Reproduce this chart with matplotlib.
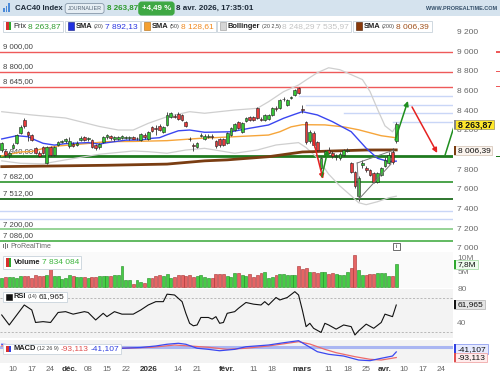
import matplotlib
matplotlib.use('Agg')
import matplotlib.pyplot as plt
from matplotlib.patches import Rectangle
import numpy as np

plt.rcParams['font.family'] = ['Liberation Sans', 'DejaVu Sans']

# ---------------- data ----------------
opens = [8000,7990,7950,8030,8075,8180,8305,8190,8160,8030,7975,8040,7875,8035,7955,8056,8090,8100,8050,8070,
         8060,8110,8135,8115,8110,8055,8035,8090,8135,8150,8115,8120,8125,8130,8130,8135,8125,8110,8160,8120,
         8240,8230,8250,8190,8260,8345,8355,8370,8360,8290,8120,8060,8040,8150,8115,8140,8150,8097,8120,8115,
         8076,8160,8210,8290,8190,8295,8345,8345,8430,8320,8310,8320,8360,8430,8430,8520,8465,8535,8565,8630,
         8425,8290,8100,8180,8090,7825,7960,8000,7970,7930,7920,7955,7995,7875,7785,7540,7850,7820,7800,7770,
         7680,7750,7840,7875,7985,8095]
highs = [8085,8000,7990,8075,8165,8255,8325,8200,8170,8040,7990,8050,8045,8045,8045,8097,8110,8130,8140,8085,
         8095,8145,8145,8140,8120,8070,8075,8150,8165,8160,8145,8150,8160,8150,8150,8145,8140,8175,8175,8200,
         8250,8260,8265,8250,8390,8390,8370,8390,8370,8300,8140,8080,8085,8175,8165,8170,8165,8110,8130,8125,
         8190,8235,8275,8300,8285,8340,8355,8355,8440,8340,8370,8370,8440,8450,8525,8540,8525,8555,8625,8645,
         8465,8300,8210,8195,8100,7935,8010,8040,7990,7960,7980,8015,8030,7880,7790,7740,7900,7845,7810,7780,
         7780,7830,7930,7985,8030,8290]
lows = [7985,7935,7925,8015,8065,8170,8230,8095,8100,7965,7930,7960,7865,7945,7945,8046,8080,8080,8030,8035,
        8050,8100,8100,8100,8030,8000,8020,8080,8120,8110,8100,8110,8115,8115,8110,8115,8110,8100,8120,8110,
        8185,8160,8200,8180,8250,8335,8330,8310,8300,8240,8100,7990,8030,8140,8105,8125,8120,8030,8040,8045,
        8065,8150,8200,8215,8180,8285,8300,8300,8320,8295,8300,8310,8350,8405,8420,8505,8455,8525,8555,8570,
        8385,8070,8080,8040,7990,7800,7940,7960,7920,7900,7905,7945,7980,7770,7620,7490,7820,7780,7740,7670,
        7670,7740,7830,7865,7860,8080]
closes = [8073,7950,7975,8060,8158,8240,8245,8160,8110,7975,7945,7975,8035,7955,8035,8087,8095,8115,8100,8050,
          8080,8130,8110,8125,8040,8030,8065,8135,8155,8125,8135,8140,8148,8140,8135,8120,8130,8165,8135,8190,
          8195,8220,8210,8240,8360,8380,8345,8320,8310,8250,8115,8050,8075,8160,8150,8145,8135,8046,8055,8060,
          8178,8225,8265,8225,8275,8330,8310,8310,8330,8310,8360,8365,8430,8420,8515,8525,8515,8540,8615,8580,
          8410,8090,8190,8060,8005,7925,7990,7975,7945,7945,7960,8000,8000,7785,7640,7725,7870,7800,7750,7680,
          7770,7820,7905,7955,7885,8264]
volumes_m = [3.2,3.6,3.5,3.5,3.2,3.8,3.7,3.7,3.0,4.1, 3.7,3.8,4.3,6.4,3.8,3.7,2.6,3.2,4.0,3.7,
             3.5,3.5,3.4,3.2,3.5,3.5,3.8,3.7,3.8,3.9, 4.1,4.1,7.2,2.4,2.4,1.0,2.4,1.8,1.3,3.0,
             3.2,3.7,4.1,3.7,4.4,3.2,3.5,4.1,4.1,3.8, 4.1,3.5,3.8,4.1,3.5,3.2,3.2,4.5,4.6,4.6,
             3.8,3.5,5.0,4.7,4.2,3.8,4.6,3.5,4.2,5.0, 5.2,3.2,3.5,4.3,4.6,4.6,4.1,4.1,4.3,7.2,
             6.2,6.4,5.1,5.1,5.0,5.1,5.1,4.4,5.0,4.4, 4.1,4.1,5.3,6.4,11.0,6.0,4.1,4.1,4.4,4.4,
             4.7,5.0,5.0,3.8,3.8,7.8]

sma20_i = [0,4,7,9,11,14,17,23,26,28,33,37,40,42,44,47,50,54,61,66,71,75,78,80,84,88,93,97,100,103,105]
sma20_v = [8117,8150,8140,8105,8073,8055,8070,8080,8065,8079,8105,8107,8124,8130,8160,8200,8208,8185,8190,8226,
           8259,8327,8368,8394,8361,8293,8191,8023,7921,7887,7892]
sma50_i = [0,5,8,11,15,22,28,35,44,53,62,71,74,77,80,86,91,95,101,105]
sma50_v = [7945,7985,7990,8020,8046,8068,8090,8092,8100,8124,8140,8157,8190,8240,8262,8260,8240,8210,8150,8129]
sma200_i = [0,28,44,54,60,71,80,88,97,105]
sma200_v = [7836,7850,7862,7895,7905,7937,7985,7995,8005,8006]
bb_up_i = [0,8,17,26,31,35,39,44,50,54,62,68,71,75,79,81,84,87,90,93,96,98,100,102,104,105]
bb_up_v = [8394,8361,8330,8244,8208,8208,8276,8343,8394,8378,8411,8428,8495,8597,8665,8716,8790,8840,8820,8770,
           8720,8600,8420,8250,8190,8248]
bb_lo_i = [0,5,11,17,26,35,39,44,49,54,62,68,73,79,81,84,87,90,93,95,97,100,103,105]
bb_lo_v = [7895,7870,7865,7905,7962,7995,7988,7972,8005,8022,7972,8005,8056,8080,8030,7925,7760,7640,7540,7470,
           7450,7480,7520,7536]

rsi_i = [0,2,6,8,9,11,13,15,17,19,22,23,25,27,28,30,32,35,37,39,41,43,44,46,48,49,50,51,52,53,55,56,57,58,59,
         60,62,63,65,67,69,70,71,73,74,76,78,79,80,81,82,83,85,86,87,89,91,93,94,95,97,99,101,102,104,105]
rsi_v = [50,38,62,56,41,42,41,53,54,51,54,53,44,52,48,54,51,51,56,62,66,66,75,74,66,52,40,37,38,47,47,45,48,40,41,
         52,54,58,65,63,62,66,62,71,68,71,78,74,56,36,40,34,29,40,38,33,38,36,26,31,39,34,41,51,48,61.965]

macd_i = [0,8,16,25,32,37,41,44,47,49,52,55,58,62,65,71,75,79,81,84,87,91,95,98,101,104,105]
macd_v = [30,10,-5,-10,-7,0,14,30,39,30,-7,-17,-30,-17,7,23,44,63,23,-39,-63,-79,-116,-122,-100,-79,-41.107]
sig_i = [0,8,16,25,32,40,46,50,55,60,65,71,76,79,82,86,89,94,98,101,105]
sig_v = [15,12,2,-5,-7,2,23,14,2,-17,-7,14,39,54,32,-17,-48,-85,-109,-116,-93.113]

red_levels = [9000, 8800, 8645]
green_levels = [7940, 7682, 7512, 7200, 7086]
green_colors = ['#1f7a1f', '#3d9c3d', '#1d6b1d', '#8fd08f', '#55b455']
green_widths = [2.0, 1.3, 1.3, 1.3, 1.3]
blue_full = [7386, 7305]
blue_part = [(8556, 79), (8462, 81), (8378, 91), (8286, 104)]
price_ticks = [9200, 9000, 8800, 8600, 8400, 8200, 7800, 7600, 7400, 7200, 7000]

tick_idx = [3, 8, 13, 18, 23, 28, 33, 39, 47, 52, 60, 67, 72, 80, 87, 92, 97, 102, 107, 112, 117]
tick_lbl = ['10', '17', '24', 'déc.', '08', '15', '22', '2026', '14', '21', 'févr.', '11', '18', 'mars',
            '11', '18', '25', 'avr.', '10', '17', '24']

# ---------------- layout helpers ----------------
W, H = 500, 375
fig = plt.figure(figsize=(5, 3.75), dpi=100)
fig.patch.set_facecolor('white')
renderer = fig.canvas.get_renderer()

def ax_px(x0, y0, x1, y1):
    a = fig.add_axes([x0 / W, 1 - y1 / H, (x1 - x0) / W, (y1 - y0) / H])
    for s in a.spines.values():
        s.set_visible(False)
    a.set_xticks([]); a.set_yticks([])
    return a

def R(x0, y0, x1, y1, **kw):
    fig.patches.append(Rectangle((x0 / W, 1 - y1 / H), (x1 - x0) / W, (y1 - y0) / H,
                                 transform=fig.transFigure, **kw))

def T(x, y, s, **kw):
    kw.setdefault('va', 'center')
    return fig.text(x / W, 1 - y / H, s, **kw)

def seq(x, y, pieces, gap=1.6, z=7):
    """Place text pieces one after another; returns end x (px)."""
    for s, size, col, wt in pieces:
        t = T(x, y, s, fontsize=size, color=col, fontweight=wt, zorder=z)
        bb = t.get_window_extent(renderer)
        x = bb.x1 + gap
    return x - gap

XL = (-0.46, 120.1)
n = len(closes)
idx = np.arange(n)
o = np.array(opens); c = np.array(closes); h = np.array(highs); l = np.array(lows)
up = c >= o
GREEN, RED = '#35c435', '#e63b3b'
NUM = 6.0

# ---------------- main price panel ----------------
ax = ax_px(0, 16, 453, 252)
ax.set_xlim(*XL); ax.set_ylim(6969.5, 9365.5)
ax.set_facecolor('white')
for lv in red_levels:
    ax.axhline(lv, color='#ee5a5a', lw=1.0, zorder=1)
for lv, col, lw in zip(green_levels, green_colors, green_widths):
    ax.axhline(lv, color=col, lw=lw, zorder=1)
for lv in blue_full:
    ax.axhline(lv, color='#c9d6f7', lw=1.0, zorder=1)
for lv, st in blue_part:
    ax.plot([st, XL[1]], [lv, lv], color='#c9d6f7', lw=1.0, zorder=1)
for lv in red_levels + green_levels:
    ax.annotate(f"{lv:,.2f}".replace(',', ' ').replace('.', ','), xy=(0, lv),
                xycoords=('axes fraction', 'data'), xytext=(2, 1.2), textcoords='offset points',
                fontsize=5.6, color='#444444', va='bottom', ha='left', zorder=2)

ax.plot(bb_up_i, bb_up_v, color='#cfcfcf', lw=0.9, zorder=2)
ax.plot(bb_lo_i, bb_lo_v, color='#cfcfcf', lw=0.9, zorder=2)
ax.plot(sma200_i, sma200_v, color='#7a3d12', lw=2.0, zorder=3)
ax.plot(sma50_i, sma50_v, color='#f6a53a', lw=1.0, zorder=3)
ax.plot(sma20_i, sma20_v, color='#3a46f0', lw=1.0, zorder=3)

ax.vlines(idx, l, h, color='#333333', lw=0.6, zorder=4)
body_b = np.minimum(o, c)
body_h = np.maximum(np.abs(c - o), 6)
ax.bar(idx, body_h, bottom=body_b, width=0.72, color=np.where(up, GREEN, RED),
       edgecolor='#222222', linewidth=0.4, zorder=5)

arr = dict(arrowstyle='-|>', mutation_scale=7, lw=1.1, shrinkA=0, shrinkB=0)
ax.annotate('', xy=(85.5, 7711), xytext=(82.9, 8107), arrowprops=dict(arr, color='#e52222'), zorder=6)
ax.annotate('', xy=(86.8, 8005), xytext=(85.2, 7734), arrowprops=dict(arr, color='#1f8f1f'), zorder=6)
ax.annotate('', xy=(108.1, 8503), xytext=(104.7, 8107), arrowprops=dict(arr, color='#1f8f1f'), zorder=6)
ax.annotate('', xy=(115.9, 7975), xytext=(109.2, 8442), arrowprops=dict(arr, color='#e52222'), zorder=6)
ax.plot([118.0, 121.0], [7955, 8320], color='#1f8f1f', lw=1.1, zorder=6)
ax.plot([94.6, 104.4], [7873, 8005], color='#777777', lw=0.7, zorder=6)
ax.plot([95.1, 103.6], [7508, 7863], color='#777777', lw=0.7, zorder=6)
ax.plot([94.6, 95.1], [7873, 7508], color='#777777', lw=0.7, zorder=6)

for p in price_ticks:
    ax.annotate(f"{p:,}".replace(',', ' '), xy=(1, p), xycoords=('axes fraction', 'data'),
                xytext=(3, 0), textcoords='offset points', fontsize=NUM, color='#666666',
                va='center', ha='left', annotation_clip=False)

# ---------------- volume panel ----------------
axv = ax_px(0, 252, 453, 288)
axv.set_xlim(*XL); axv.set_ylim(-0.345, 12.07)
axv.set_facecolor('#fafafa')
vc = np.where(up, '#45cc45', '#e56464')
ve = np.where(up, '#1f8a1f', '#a83030')
axv.bar(idx, volumes_m, width=0.78, color=vc, edgecolor=ve, linewidth=0.4, zorder=3)
for v, lab in [(10, '10M'), (5, '5M')]:
    axv.annotate(lab, xy=(1, v), xycoords=('axes fraction', 'data'), xytext=(3, 0),
                 textcoords='offset points', fontsize=NUM, color='#777777', va='center',
                 annotation_clip=False)

# ---------------- RSI panel ----------------
axr = ax_px(0, 289, 453, 338)
axr.set_xlim(*XL); axr.set_ylim(22.35, 81.2)
axr.set_facecolor('#f3f3f3')
for lv in (70, 30):
    axr.axhline(lv, color='#b0b0b0', lw=0.6, ls=(0, (2.5, 2)))
axr.plot(rsi_i, rsi_v, color='#111111', lw=0.8)
for v in (80, 40):
    axr.annotate(str(v), xy=(1, v), xycoords=('axes fraction', 'data'), xytext=(3, 0),
                 textcoords='offset points', fontsize=NUM, color='#777777', va='center',
                 annotation_clip=False)

# ---------------- MACD panel ----------------
axm = ax_px(0, 340, 453, 363)
axm.set_xlim(*XL); axm.set_ylim(-143.5, 69.4)
axm.set_facecolor('#f3f3f3')
axm.axhline(0, color='#aab6f2', lw=2.2)
axm.plot(sig_i, sig_v, color='#ee6a6a', lw=0.9)
axm.plot(macd_i, macd_v, color='#3b48f0', lw=0.9)
axm.set_xticks(tick_idx)
axm.set_xticklabels(tick_lbl, fontsize=5.8, color='#666666')
axm.tick_params(axis='x', length=0, pad=2.4)
for t in axm.get_xticklabels():
    if t.get_text() in ('déc.', '2026', 'févr.', 'mars', 'avr.'):
        t.set_fontweight('bold'); t.set_color('#333333')

# ---------------- header ----------------
R(0, 0, 500, 16, fc='#d5e3ee', ec='none')
for k, hh in enumerate([4, 6, 9]):
    R(3 + k * 2.6, 12 - hh, 4.8 + k * 2.6, 12, fc='#4a8ad8', ec='none')
hy = 8.5
x = seq(15, hy, [('CAC40 Index', 5.6, '#1d2a38', 'bold')])
x = x + 5
t = T(x, hy, 'JOURNALIER', fontsize=3.9, color='#556677',
      bbox=dict(boxstyle='round,pad=0.45', fc='#e6eef4', ec='#8899aa', lw=0.6))
x = t.get_window_extent(renderer).x1 + 5
x = seq(x, hy, [('8 263,87', 5.8, '#2e9b2e', 'bold')]) + 4
t = T(x, hy, '+4,49 %', fontsize=5.8, fontweight='bold', color='white',
      bbox=dict(boxstyle='round,pad=0.35', fc='#3ea843', ec='#3ea843'))
x = t.get_window_extent(renderer).x1 + 5
seq(x, hy, [('8 avr. 2026, 17:35:01', 5.8, '#1d2a38', 'bold')])
T(497, 9, 'WWW.PROREALTIME.COM', fontsize=4.0, fontweight='bold', color='#34506a', ha='right')

# ---------------- legends ----------------
def legend_item(x0, y0, y1, icon, pieces):
    ym = (y0 + y1) / 2
    xs = x0 + 3
    if icon[0] == 'split':
        R(xs, y0 + 2, xs + 2.5, y1 - 2, fc='#d83030', ec='none', zorder=6)
        R(xs + 2.5, y0 + 2, xs + 5, y1 - 2, fc=icon[1], ec='none', zorder=6)
    else:
        R(xs, y0 + 2, xs + 5.5, y1 - 2, fc=icon[1], ec=icon[2], lw=0.4, zorder=6)
    x_end = seq(xs + 7.5, ym + 0.2, pieces)
    R(x0, y0, x_end + 2.5, y1, fc='white', ec='#cfd8e0', lw=0.7, zorder=5)
    return x_end + 2.5

LS, SS, D = 5.4, 3.9, '#222222'
G = '#444444'
ly0, ly1 = 20.5, 32
legend_item(3, ly0, ly1, ('split', '#2ea82e'),
            [('Prix', LS, D, 'normal'), ('8 263,87', NUM, '#2e9b2e', 'normal')])
legend_item(65, ly0, ly1, ('sq', '#2030e0', '#101a80'),
            [('SMA', LS, D, 'bold'), ('(20)', SS, G, 'normal'), ('7 892,13', NUM, '#2a36e0', 'normal')])
legend_item(141, ly0, ly1, ('sq', '#f5a030', '#b06a10'),
            [('SMA', LS, D, 'bold'), ('(50)', SS, G, 'normal'), ('8 128,61', NUM, '#f08a20', 'normal')])
legend_item(217, ly0, ly1, ('sq', '#d6d6d6', '#999999'),
            [('Bollinger', LS, D, 'bold'), ('(20 2,5)', SS, G, 'normal'),
             ('8 248,29', NUM, '#c4c4c4', 'normal'), ('7 535,97', NUM, '#c4c4c4', 'normal')])
legend_item(353, ly0, ly1, ('sq', '#8a3a0a', '#4a1a00'),
            [('SMA', LS, D, 'bold'), ('(200)', SS, G, 'normal'), ('8 006,39', NUM, '#a0501a', 'normal')])

legend_item(3, 255.5, 268.5, ('split', '#2ea82e'),
            [('Volume', LS, D, 'bold'), ('7 834 084', NUM, '#3cb43c', 'normal')])
legend_item(3, 291.5, 302, ('sq', '#111111', '#111111'),
            [('RSI', LS, D, 'bold'), ('(14)', SS, G, 'normal'), ('61,965', NUM, D, 'normal')])
R(6, 345.5, 8.5, 352, fc='#e05050', ec='none', zorder=6)
legend_item(3, 343.5, 354, ('split', '#3040e0'),
            [('MACD', LS, D, 'bold'), ('(12 26 9)', SS, G, 'normal'),
             ('-93,113', NUM, '#e05050', 'normal'), ('-41,107', NUM, '#3040e0', 'normal')])

# watermark logo + text, info icon
for k, (y0, y1) in enumerate([(244, 248), (242.5, 249), (244, 248)]):
    R(3 + k * 1.8, y0, 4 + k * 1.8, y1, fc='#777777', ec='none')
T(10, 246, 'ProRealTime', fontsize=5.0, color='#666666')
R(393, 243, 400, 249.5, fc='white', ec='#555555', lw=0.6, zorder=5)
T(396.5, 246.3, 'i', fontsize=4.5, color='#333333', ha='center', zorder=7)

# right-side value tags
def tag(y, txt, fc, ec, bar, tc='#111111', bold=False):
    t = T(457.5, y + 0.2, txt, fontsize=6.3 if bold else NUM, color=tc,
          fontweight='bold' if bold else 'normal', zorder=10)
    x1 = t.get_window_extent(renderer).x1 + 2
    R(453.5, y - 4.6, x1, y + 4.6, fc=fc, ec=ec, lw=0.6, zorder=8)
    R(453.5, y - 4.6, 455.5, y + 4.6, fc=bar, ec='none', zorder=9)

tag(124.3, '8 263,87', '#ffe82a', '#a8a070', '#888888', bold=True)
tag(150.3, '8 006,39', '#fbf4ee', '#d8c8bc', '#7a3d12')
tag(264.5, '7,8M', '#eefbee', '#a8dca8', '#2ea82e')
tag(304.5, '61,965', '#e4e4e4', '#bbbbbb', '#111111')
tag(349.0, '-41,107', '#e6eaff', '#8f9ef0', '#3040e0')
tag(357.4, '-93,113', '#ffecec', '#f0a8a8', '#e05050')

# tiny level markers at the far right edge
for lv in red_levels:
    yy = 52 + (9000 - lv) * 0.0985
    R(496, yy - 0.5, 500, yy + 0.5, fc='#ee5a5a', ec='none')
yy = 52 + (9000 - 7940) * 0.0985
R(496, yy - 0.7, 500, yy + 0.7, fc='#1f7a1f', ec='none')

fig.savefig('out.png', dpi=100, facecolor='white')
